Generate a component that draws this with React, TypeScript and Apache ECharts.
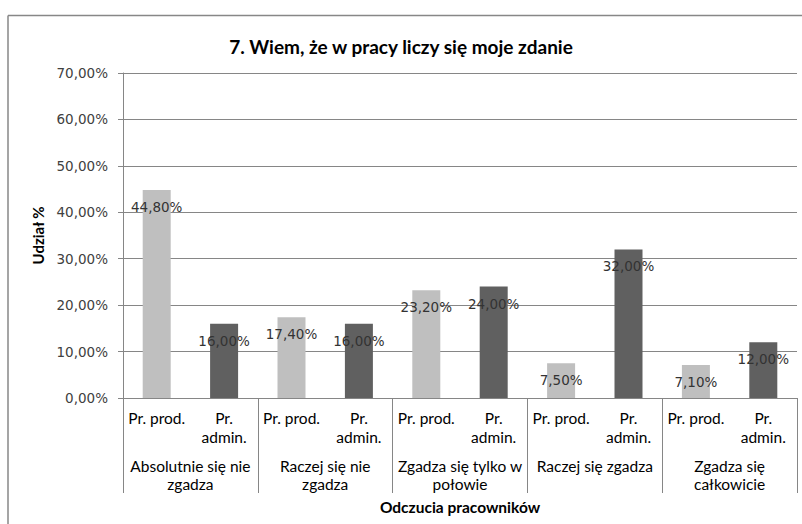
import React, { useEffect, useRef } from "react";
import * as echarts from "echarts";

const title = "7. Wiem, że w pracy liczy się moje zdanie";
const groups = [
  "Absolutnie się nie\nzgadza",
  "Raczej się nie\nzgadza",
  "Zgadza się tylko w\npołowie",
  "Raczej się zgadza",
  "Zgadza się\ncałkowicie",
];
const subLabels = ["Pr. prod.", "Pr.\nadmin."];
const prodValues = [44.8, 17.4, 23.2, 7.5, 7.1];
const adminValues = [16.0, 16.0, 24.0, 32.0, 12.0];
const yAxisName = "Udział %";
const xAxisName = "Odczucia pracowników";

const LIGHT = "#BFBFBF";
const DARK = "#606060";
const GRID = "#868686";

export default function App() {
  const ref = useRef<HTMLDivElement>(null);
  useEffect(() => {
    if (!ref.current) return;
    const chart = echarts.init(ref.current, undefined, { renderer: "svg" });
    const cats: string[] = [];
    const data: any[] = [];
    groups.forEach((g, i) => {
      cats.push(subLabels[0]);
      data.push({ value: prodValues[i], itemStyle: { color: LIGHT } });
      cats.push(subLabels[1]);
      data.push({ value: adminValues[i], itemStyle: { color: DARK } });
    });
    const fmt = (v: number) => v.toFixed(2).replace(".", ",") + "%";
    chart.setOption({
      animation: false,
      backgroundColor: "#ffffff",
      title: {
        text: title,
        left: "center",
        top: 32,
        textStyle: {
          fontFamily: "Lato",
          fontWeight: "bold",
          fontSize: 19,
          color: "#000",
        },
      },
      graphic: [
        {
          type: "line",
          shape: { x1: 8, y1: 15.5, x2: 802, y2: 15.5 },
          style: { stroke: "#878787", lineWidth: 1.5 },
          silent: true,
        },
        {
          type: "line",
          shape: { x1: 8, y1: 15.5, x2: 8, y2: 524 },
          style: { stroke: "#878787", lineWidth: 1.5 },
          silent: true,
        },
      ],
      grid: { left: 123, right: 5, top: 73, bottom: 126 },
      xAxis: [
        {
          type: "category",
          data: cats,
          position: "bottom",
          axisLine: { show: true, lineStyle: { color: GRID, width: 1 } },
          axisTick: { show: false },
          axisLabel: {
            interval: 0,
            margin: 10,
            fontFamily: "Lato",
            fontSize: 15.5,
            lineHeight: 19,
            color: "#000",
          },
        },
        {
          type: "category",
          data: groups,
          position: "bottom",
          axisLine: { show: false },
          axisTick: { show: true, length: 95, lineStyle: { color: GRID } },
          axisLabel: {
            interval: 0,
            margin: 59,
            fontFamily: "Lato",
            fontSize: 15.5,
            lineHeight: 18,
            color: "#000",
          },
          name: xAxisName,
          nameLocation: "middle",
          nameGap: 101,
          nameTextStyle: {
            fontFamily: "Lato",
            fontWeight: "bold",
            fontSize: 15.5,
            color: "#000",
          },
        },
      ],
      yAxis: {
        type: "value",
        min: 0,
        max: 70,
        interval: 10,
        name: yAxisName,
        nameLocation: "middle",
        nameRotate: 90,
        nameGap: 72,
        nameTextStyle: {
          fontFamily: "Lato",
          fontWeight: "bold",
          fontSize: 15,
          color: "#000",
        },
        axisLine: { show: true, lineStyle: { color: GRID } },
        axisTick: { show: true, length: 5, lineStyle: { color: GRID } },
        splitLine: { show: true, lineStyle: { color: GRID } },
        axisLabel: {
          formatter: fmt,
          margin: 15,
          fontFamily: "DejaVu Sans",
          fontSize: 13.5,
          color: "#404040",
        },
      },
      series: [
        {
          type: "bar",
          data,
          barWidth: 28,
          xAxisIndex: 0,
          label: {
            show: true,
            position: "insideTop",
            distance: 10,
            formatter: (p: any) => fmt(p.value),
            fontFamily: "DejaVu Sans",
            fontSize: 13.5,
            color: "#333",
          },
        },
      ],
    });
    return () => chart.dispose();
  }, []);
  return (
    <div
      ref={ref}
      style={{ position: "fixed", left: 0, top: 0, width: 802, height: 524 }}
    />
  );
}
